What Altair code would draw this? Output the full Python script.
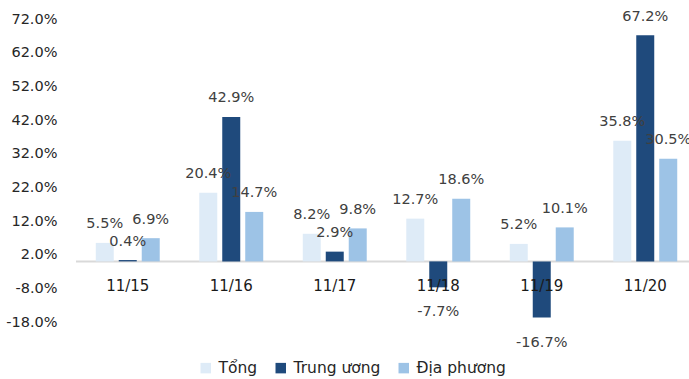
import altair as alt
import pandas as pd

categories = ["11/15", "11/16", "11/17", "11/18", "11/19", "11/20"]
series = ["Tổng", "Trung ương", "Địa phương"]
tong = [5.5, 20.4, 8.2, 12.7, 5.2, 35.8]
trung_uong = [0.4, 42.9, 2.9, -7.7, -16.7, 67.2]
dia_phuong = [6.9, 14.7, 9.8, 18.6, 10.1, 30.5]
colors = ["#DEEBF7", "#1F4A7C", "#9DC3E6"]
y_ticks = [-18, -8, 2, 12, 22, 32, 42, 52, 62, 72]

rows = []
for name, vals in zip(series, [tong, trung_uong, dia_phuong]):
    for c, v in zip(categories, vals):
        rows.append({"cat": c, "series": name, "pct": v})
df = pd.DataFrame(rows)
df["frac"] = df["pct"] / 100.0
df["zero"] = 0.0

FONT = "DejaVu Sans"
W_RANGE = 621

x_enc = alt.X("cat:N", sort=categories,
              scale=alt.Scale(range=[0, W_RANGE], paddingInner=0, paddingOuter=0),
              axis=None)
xoff_enc = alt.XOffset("series:N", sort=series,
                       scale=alt.Scale(paddingInner=0.217, paddingOuter=0.86))
y_scale = alt.Scale(domain=[-0.18, 0.72], nice=False, zero=False)
y_axis = alt.Axis(values=[v / 100 for v in y_ticks], format=".1%",
                  labelExpr="replace(datum.label, '\u2212', '-')",
                  grid=False, domain=False, ticks=False, tickSize=0,
                  labelPadding=19, title=None, labelFontSize=14.5,
                  labelColor="#262626", labelFont=FONT)

base = alt.Chart(df)

axis_line = alt.Chart(pd.DataFrame({"zero": [0.0]})).mark_rule(
    color="#D9D9D9", strokeWidth=2
).encode(
    y=alt.Y("zero:Q", scale=y_scale, axis=y_axis),
    x=alt.value(0),
    x2=alt.value(W_RANGE),
)

bars = base.mark_bar().encode(
    x=x_enc,
    xOffset=xoff_enc,
    y=alt.Y("frac:Q", scale=y_scale, axis=y_axis),
    y2=alt.Y2("zero:Q"),
    color=alt.Color("series:N", sort=series,
                    scale=alt.Scale(domain=series, range=colors),
                    legend=alt.Legend(title=None, orient="none", direction="horizontal",
                                      legendX=122, legendY=341, padding=0,
                                      symbolType="square", symbolSize=110,
                                      symbolStrokeWidth=0, labelFontSize=15.5,
                                      labelFont=FONT, labelColor="#262626",
                                      columnPadding=15, labelOffset=5)),
)

label_expr = "replace(format(datum.pct / 100, '.1%'), '\u2212', '-')"

pos_labels = base.transform_filter("datum.pct >= 0").transform_calculate(
    label=label_expr
).mark_text(baseline="alphabetic", dy=-14.5, fontSize=14.5, font=FONT, color="#404040").encode(
    x=x_enc, xOffset=xoff_enc,
    y=alt.Y("frac:Q", scale=y_scale, axis=y_axis),
    text="label:N",
)

neg_labels = base.transform_filter("datum.pct < 0").transform_calculate(
    label=label_expr
).mark_text(baseline="alphabetic", dy=29, fontSize=14.5, font=FONT, color="#404040").encode(
    x=x_enc, xOffset=xoff_enc,
    y=alt.Y("frac:Q", scale=y_scale, axis=y_axis),
    text="label:N",
)

cat_labels = alt.Chart(pd.DataFrame({"cat": categories, "zero": [0.0] * len(categories)})).mark_text(
    baseline="middle", dy=25, fontSize=15, font=FONT, color="#1a1a1a"
).encode(
    x=x_enc,
    y=alt.Y("zero:Q", scale=y_scale, axis=y_axis),
    text="cat:N",
)

chart = alt.layer(axis_line, bars, pos_labels, neg_labels, cat_labels).properties(
    width=613, height=303,
    autosize=alt.AutoSizeParams(type="none"),
    padding={"left": 76, "top": 19, "right": 0, "bottom": 57},
).configure(background="white").configure_view(strokeWidth=0, stroke="transparent")

chart.save("out.html", embed_options={"renderer": "svg", "actions": False})
